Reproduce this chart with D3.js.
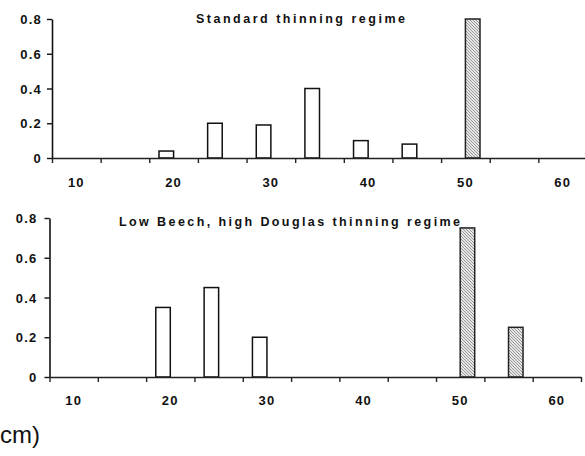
<!DOCTYPE html>
<html>
<head>
<meta charset="utf-8">
<script src="https://cdn.jsdelivr.net/npm/d3@7"></script>
<style>
  html, body { margin: 0; padding: 0; background: #fff; }
  svg { display: block; }
  .tick text { font-family: "Liberation Sans", Arial, sans-serif; font-weight: bold; font-size: 13px; fill: #111; letter-spacing: 1.2px; }
  .title { font-family: "Liberation Sans", Arial, sans-serif; font-weight: bold; font-size: 12.5px; fill: #111; }
</style>
</head>
<body>
<svg id="chart" width="585" height="456"></svg>
<script>
// Diameter classes (cm), one bar slot per 5 cm class
const categories = [10, 15, 20, 25, 30, 35, 40, 45, 50, 55, 60];
const xTickLabels = [10, 20, 30, 40, 50, 60];
const yTicks = [0, 0.2, 0.4, 0.6, 0.8];

// Proportion of trees per diameter class
const standardBeech   = [0, 0, 0.04, 0.20, 0.19, 0.40, 0.10, 0.08, 0, 0, 0];
const standardDouglas = [0, 0, 0, 0, 0, 0, 0, 0, 0.80, 0, 0];
const lowBeech        = [0, 0, 0.35, 0.45, 0.20, 0, 0, 0, 0, 0, 0];
const lowDouglas      = [0, 0, 0, 0, 0, 0, 0, 0, 0.75, 0.25, 0];

const panelTitles = ["Standard thinning regime", "Low Beech, high Douglas thinning regime"];

const svg = d3.select("#chart");

// Diagonal hatch used for the Douglas fir bars
const defs = svg.append("defs");
const pat = defs.append("pattern")
  .attr("id", "hatch")
  .attr("patternUnits", "userSpaceOnUse")
  .attr("width", 3).attr("height", 3);
pat.append("rect").attr("width", 3).attr("height", 3).attr("fill", "#e6e6e6");
pat.append("path")
  .attr("d", "M-1,-1 L4,4 M-1,2 L1,4 M2,-1 L4,1")
  .attr("stroke", "#858585").attr("stroke-width", 0.8);

const panels = [
  { title: panelTitles[0], beech: standardBeech, douglas: standardDouglas,
    left: 52, right: 587, top: 19, bottom: 158,
    titleX: 196, titleY: 23, titleW: 209, yLabelX: -10, xLabelY: 187 },
  { title: panelTitles[1], beech: lowBeech, douglas: lowDouglas,
    left: 49.5, right: 581, top: 218, bottom: 377,
    titleX: 119, titleY: 226, titleW: 341, yLabelX: -12, xLabelY: 405 }
];

panels.forEach(p => {
  const g = svg.append("g");

  const x = d3.scaleBand().domain(categories).range([p.left, p.right]).padding(0);
  const xb = d3.scaleLinear().domain([0, categories.length]).range([p.left, p.right]);
  const y = d3.scaleLinear().domain([0, 0.8]).range([p.bottom, p.top]);
  const bw = x.bandwidth() * 0.3;

  // Beech bars (open), left of the class centre
  g.selectAll("rect.beech")
    .data(categories.map((c, i) => ({ c, v: p.beech[i] })).filter(d => d.v > 0))
    .join("rect")
    .attr("class", "beech")
    .attr("x", d => x(d.c) + x.bandwidth() / 2 - bw)
    .attr("y", d => y(d.v))
    .attr("width", bw)
    .attr("height", d => y(0) - y(d.v))
    .attr("fill", "#fff")
    .attr("stroke", "#111")
    .attr("stroke-width", 1.5);

  // Douglas fir bars (hatched), right of the class centre
  g.selectAll("rect.douglas")
    .data(categories.map((c, i) => ({ c, v: p.douglas[i] })).filter(d => d.v > 0))
    .join("rect")
    .attr("class", "douglas")
    .attr("x", d => x(d.c) + x.bandwidth() / 2)
    .attr("y", d => y(d.v))
    .attr("width", bw)
    .attr("height", d => y(0) - y(d.v))
    .attr("fill", "url(#hatch)")
    .attr("stroke", "#222")
    .attr("stroke-width", 1.5);

  // Y axis
  const ya = g.append("g")
    .attr("transform", `translate(${p.left},0)`)
    .call(d3.axisLeft(y).tickValues(yTicks).tickSize(5).tickSizeOuter(0)
      .tickFormat(d => d === 0 ? "0" : d3.format(".1f")(d)));
  ya.select(".domain").attr("stroke", "#111").attr("stroke-width", 1.6);
  ya.selectAll(".tick line").attr("stroke", "#111").attr("stroke-width", 1.4);
  ya.selectAll(".tick text").attr("x", p.yLabelX).attr("dy", "0.36em");

  // X axis: tick marks on the class boundaries
  const xa = g.append("g")
    .attr("transform", `translate(0,${p.bottom})`)
    .call(d3.axisBottom(xb).tickValues(d3.range(categories.length + 1)).tickSize(5)
      .tickSizeOuter(0).tickFormat(""));
  xa.select(".domain").attr("stroke", "#222").attr("stroke-width", 1.6);
  xa.selectAll(".tick line").attr("stroke", "#222").attr("stroke-width", 1.4);

  // X labels at the centre of every other class
  const xl = g.append("g");
  xl.selectAll("text")
    .data(xTickLabels)
    .join("text")
    .attr("x", d => x(d) + x.bandwidth() / 2)
    .attr("y", p.xLabelY)
    .attr("text-anchor", "middle")
    .style("font-family", '"Liberation Sans", Arial, sans-serif')
    .style("font-weight", "bold")
    .style("font-size", "13px")
    .style("letter-spacing", "1.2px")
    .attr("fill", "#111")
    .text(d => d);

  // Panel title
  g.append("text")
    .attr("class", "title")
    .attr("x", p.titleX)
    .attr("y", p.titleY)
    .attr("textLength", p.titleW)
    .attr("lengthAdjust", "spacing")
    .text(p.title);
});

// Shared x-axis unit label
svg.append("text")
  .attr("x", 0)
  .attr("y", 443)
  .style("font-family", '"Liberation Sans", Arial, sans-serif')
  .style("font-size", "24px")
  .attr("fill", "#111")
  .text("cm)");
</script>
</body>
</html>
